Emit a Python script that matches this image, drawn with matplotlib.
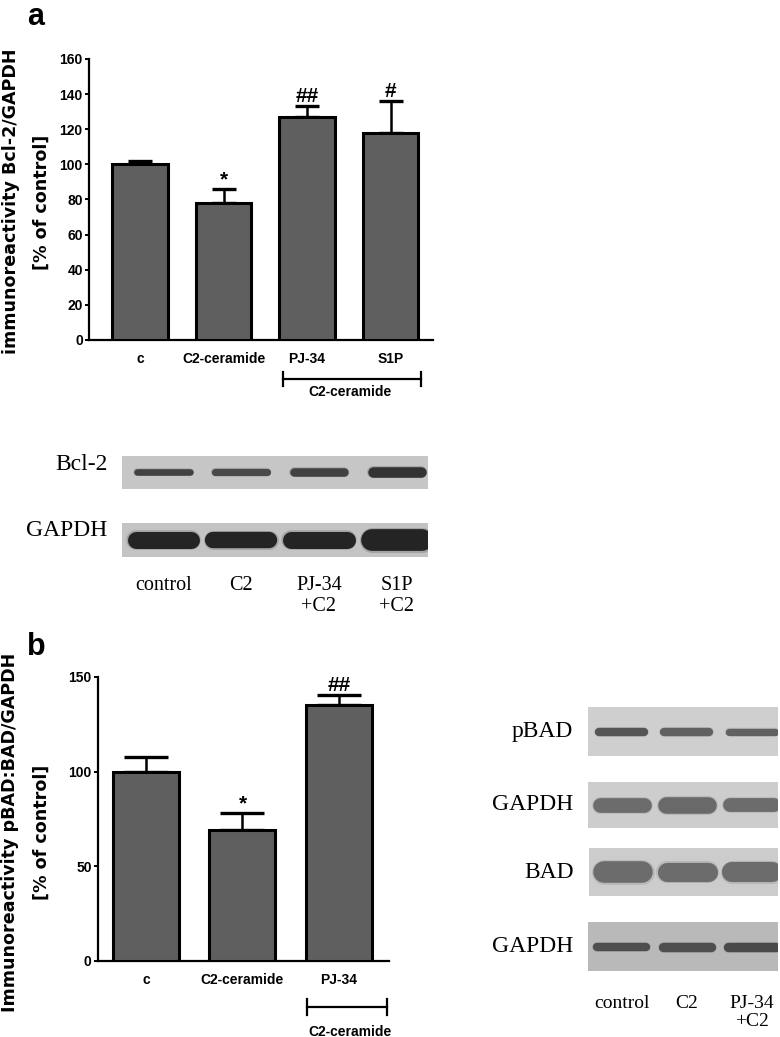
import matplotlib.pyplot as plt

W, H, DPI = 780, 1037, 100

# panel a: Bcl-2/GAPDH densitometry
a_groups = ['c', 'C2-ceramide', 'PJ-34', 'S1P']
a_means = [100, 78, 127, 118]
a_sem = [2, 8, 6, 18]
a_marks = ['', '*', '##', '#']
a_ticks = [0, 20, 40, 60, 80, 100, 120, 140, 160]

# panel b: pBAD:BAD/GAPDH densitometry
b_groups = ['c', 'C2-ceramide', 'PJ-34']
b_means = [100, 69, 135]
b_sem = [8, 9, 5.5]
b_marks = ['', '*', '##']
b_ticks = [0, 50, 100, 150]

# western blots: band darkness (0..1) and band thickness (fraction of strip)
a_lanes = ['control', 'C2', 'PJ-34\n+C2', 'S1P\n+C2']
bcl2_dark = [0.72, 0.68, 0.72, 0.8]
bcl2_thick = [0.2, 0.22, 0.26, 0.32]
gapdh_a_dark = [0.88, 0.88, 0.88, 0.88]
gapdh_a_thick = [0.5, 0.48, 0.5, 0.64]

b_lanes = ['control', 'C2', 'PJ-34\n+C2']
pbad_dark = [0.62, 0.56, 0.56]
pbad_thick = [0.17, 0.17, 0.15]
gapdh_b1_dark = [0.5, 0.52, 0.5]
gapdh_b1_thick = [0.32, 0.36, 0.3]
bad_dark = [0.5, 0.5, 0.5]
bad_thick = [0.45, 0.4, 0.42]
gapdh_b2_dark = [0.66, 0.66, 0.68]
gapdh_b2_thick = [0.17, 0.19, 0.19]

SANS = ['Liberation Sans', 'DejaVu Sans']
SERIF = ['Liberation Serif', 'DejaVu Serif']

fig = plt.figure(figsize=(W / DPI, H / DPI), dpi=DPI)


def px_axes(x0, y0, x1, y1):
    return fig.add_axes([x0 / W, 1 - y1 / H, (x1 - x0) / W, (y1 - y0) / H])


def bar_panel(ax, groups, means, sem, marks, ticks, xlim, width, capsize):
    x = list(range(len(groups)))
    ax.bar(x, means, width=width, color='#5f5f5f', edgecolor='black',
           linewidth=2.2, zorder=3)
    ax.errorbar(x, means, yerr=[[0] * len(sem), sem], fmt='none', ecolor='black',
                elinewidth=1.8, capsize=capsize, capthick=2.4, zorder=2)
    for i, m in enumerate(marks):
        if m:
            ax.annotate(m, (i, means[i] + sem[i]), xytext=(0, 0),
                        textcoords='offset points', ha='center', va='bottom',
                        fontsize=15, fontweight='bold', family=SANS)
    ax.set_xlim(*xlim)
    ax.set_ylim(ticks[0], ticks[-1])
    ax.set_yticks(ticks)
    ax.set_xticks(x)
    ax.set_xticklabels(groups)
    for s in ('top', 'right'):
        ax.spines[s].set_visible(False)
    for s in ('left', 'bottom'):
        ax.spines[s].set_linewidth(1.6)
    ax.tick_params(axis='y', direction='out', length=3, width=1.4, pad=1.5)
    ax.tick_params(axis='x', length=0, pad=9)
    for lab in ax.get_xticklabels() + ax.get_yticklabels():
        lab.set_fontsize(10)
        lab.set_fontweight('bold')
        lab.set_family(SANS)
    ax.patch.set_visible(False)


def bracket(ax, x0, x1, y, tick, label_x, label_y):
    tr = ax.get_xaxis_transform()
    ax.plot([x0, x1], [y, y], color='black', lw=1.6, transform=tr, clip_on=False)
    for xx in (x0, x1):
        ax.plot([xx, xx], [y - tick, y + tick], color='black', lw=1.6,
                transform=tr, clip_on=False)
    ax.text(label_x, label_y, 'C2-ceramide', transform=tr, ha='center',
            va='center', fontsize=10, fontweight='bold', family=SANS)


def blot(box, xlim, dark, thick, width, bg, label, label_dy=0):
    ax = px_axes(*box)
    ax.set_xlim(*xlim)
    ax.set_ylim(0, 1)
    ax.set_facecolor(bg)
    ax.set_xticks([])
    ax.set_yticks([])
    for s in ax.spines.values():
        s.set_visible(False)
    h_pt = (box[3] - box[1]) * 72 / DPI
    lane_pt = (box[2] - box[0]) * 72 / DPI / (xlim[1] - xlim[0])
    for i, (d, t) in enumerate(zip(dark, thick)):
        shade = str(round(0.8 - 0.75 * d, 3))
        lw = t * h_pt
        # round caps stick out by lw/2, so shorten the stroke to keep the band length
        half = max(width / 2 - lw / 2 / lane_pt, 0.02)
        ax.plot([i - half, i + half], [0.5, 0.5], color=shade, lw=lw * 1.15,
                alpha=0.2, solid_capstyle='round')
        ax.plot([i - half, i + half], [0.5, 0.5], color=shade, lw=lw,
                solid_capstyle='round')
    ax.annotate(label, (0, 0.5), xycoords='axes fraction', xytext=(-10.5, label_dy),
                textcoords='offset points', ha='right', va='center',
                fontsize=17, family=SERIF)
    return ax


# ---- panel a bar chart
ax_a = px_axes(89, 59, 433, 340)
bar_panel(ax_a, a_groups, a_means, a_sem, a_marks, a_ticks, (-0.611, 3.509), 0.66, 8.6)
bracket(ax_a, 1.71, 3.37, -0.139, 0.026, 2.51, -0.185)
fig.text(11 / W, 1 - 201 / H, 'immunoreactivity Bcl-2/GAPDH', rotation=90,
         ha='center', va='center', fontsize=12.6, fontweight='bold', family=['DejaVu Sans'])
fig.text(42 / W, 1 - 202 / H, '[% of control]', rotation=90,
         ha='center', va='center', fontsize=12.6, fontweight='bold', family=['DejaVu Sans'])
fig.text(27 / W, 1 - 25 / H, 'a', fontsize=22, fontweight='bold', family=SANS)

# ---- panel a blots
a_xlim = (-0.53, 3.40)
blot((122, 456, 428, 489), a_xlim, bcl2_dark, bcl2_thick, 0.76, '#c6c6c6', 'Bcl-2', 6)
g_a = blot((122, 523, 428, 557), a_xlim, gapdh_a_dark, gapdh_a_thick, 0.93, '#c3c3c3', 'GAPDH', 7)
for i, lab in enumerate(a_lanes):
    g_a.text(i, -0.55, lab, transform=g_a.get_xaxis_transform(), ha='center', va='top',
             fontsize=14.5, family=SERIF, linespacing=1.15)

# ---- panel b bar chart
ax_b = px_axes(98, 677, 389, 961)
bar_panel(ax_b, b_groups, b_means, b_sem, b_marks, b_ticks, (-0.497, 2.518), 0.684, 16)
bracket(ax_b, 1.67, 2.50, -0.162, 0.028, 2.11, -0.25)
fig.text(10 / W, 1 - 832 / H, 'Immunoreactivity pBAD:BAD/GAPDH', rotation=90,
         ha='center', va='center', fontsize=12.6, fontweight='bold', family=['DejaVu Sans'])
fig.text(42 / W, 1 - 832 / H, '[% of control]', rotation=90,
         ha='center', va='center', fontsize=12.6, fontweight='bold', family=['DejaVu Sans'])
fig.text(27 / W, 1 - 655 / H, 'b', fontsize=22, fontweight='bold', family=SANS)

# ---- panel b blots
b_xlim = (-0.52, 2.4)
blot((588, 707, 778, 756), b_xlim, pbad_dark, pbad_thick, 0.82, '#cfcfcf', 'pBAD')
blot((588, 782, 778, 828), b_xlim, gapdh_b1_dark, gapdh_b1_thick, 0.9, '#cdcdcd', 'GAPDH')
blot((589, 848, 778, 896), b_xlim, bad_dark, bad_thick, 0.92, '#cccccc', 'BAD')
g_b = blot((588, 922, 778, 971), b_xlim, gapdh_b2_dark, gapdh_b2_thick, 0.88, '#b9b9b9', 'GAPDH')
for i, lab in enumerate(b_lanes):
    g_b.text(i, -0.48, lab, transform=g_b.get_xaxis_transform(), ha='center', va='top',
             fontsize=14, family=SERIF, linespacing=1.15)

fig.savefig('out.png', dpi=DPI)
